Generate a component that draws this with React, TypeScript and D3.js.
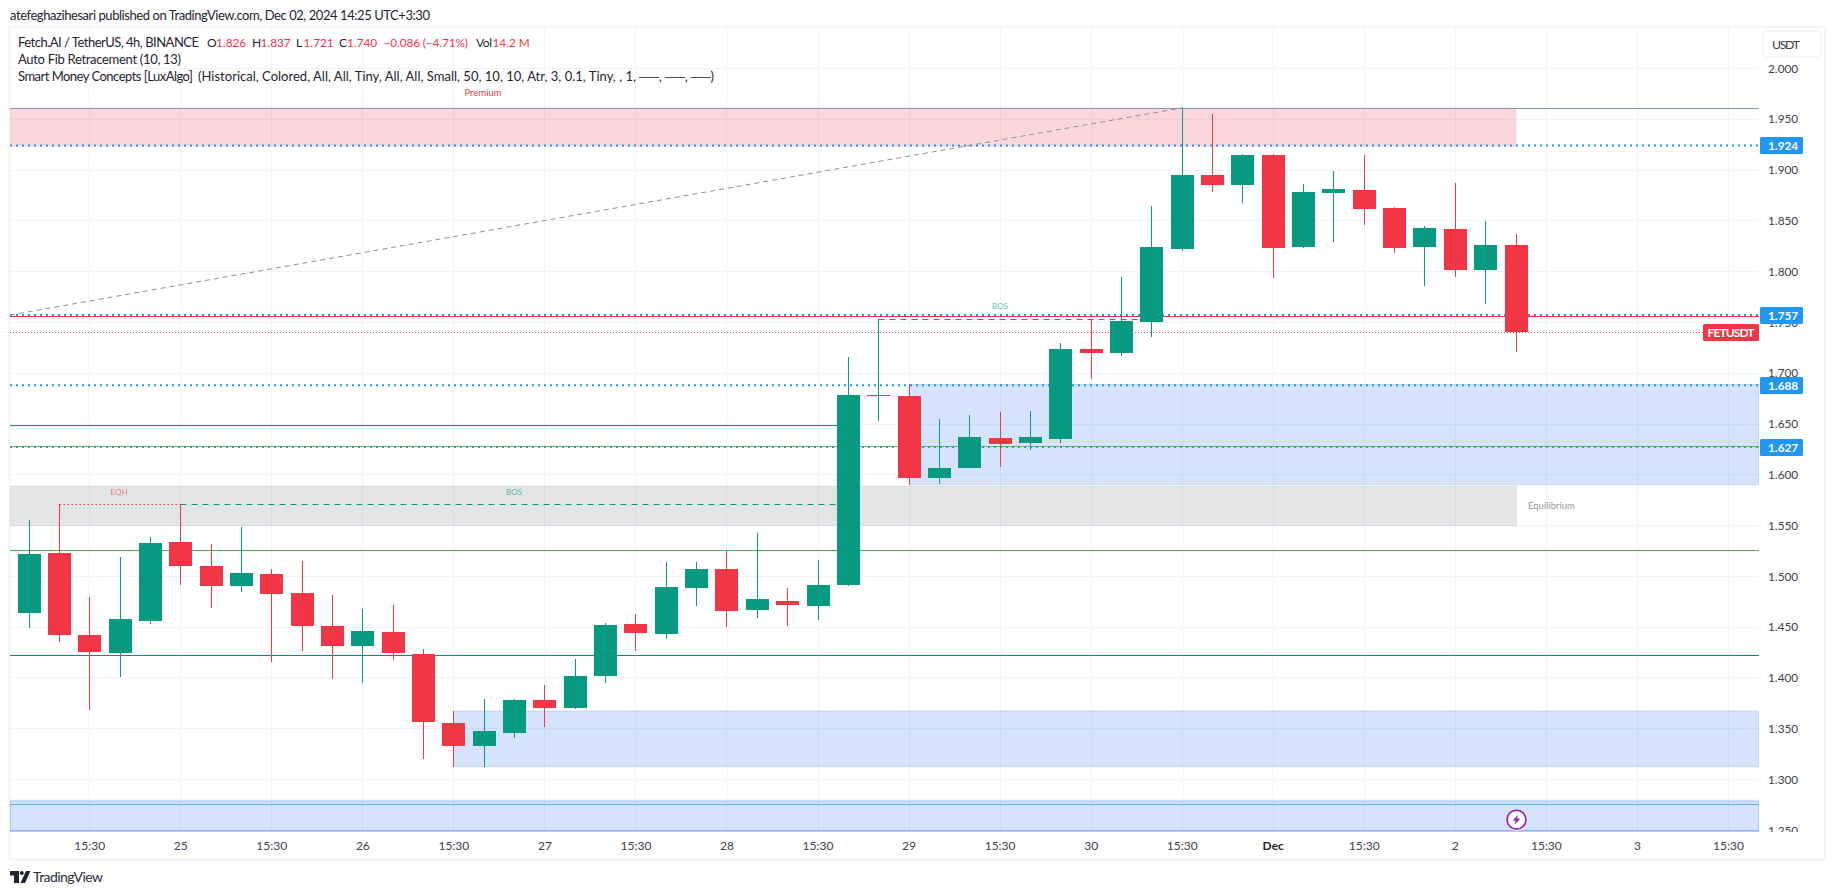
import React from "react";
import * as d3 from "d3";

const opens = [1.464,1.523,1.442,1.424,1.456,1.534,1.510,1.490,1.502,1.483,1.451,1.431,1.445,1.423,1.355,1.333,1.346,1.378,1.370,1.402,1.453,1.443,1.488,1.507,1.467,1.476,1.471,1.491,1.677,1.677,1.597,1.606,1.636,1.631,1.635,1.724,1.720,1.750,1.822,1.895,1.885,1.915,1.824,1.877,1.880,1.862,1.824,1.842,1.801,1.826];
const highs = [1.555,1.571,1.479,1.519,1.539,1.571,1.532,1.548,1.507,1.515,1.481,1.468,1.472,1.428,1.367,1.379,1.379,1.393,1.418,1.454,1.463,1.514,1.514,1.525,1.542,1.488,1.516,1.716,1.753,1.689,1.655,1.659,1.662,1.663,1.729,1.753,1.794,1.864,1.961,1.955,1.916,1.916,1.886,1.899,1.915,1.863,1.845,1.887,1.850,1.837];
const lows = [1.449,1.435,1.368,1.401,1.453,1.491,1.469,1.484,1.415,1.426,1.399,1.395,1.417,1.320,1.312,1.312,1.341,1.351,1.369,1.395,1.426,1.438,1.471,1.450,1.459,1.451,1.457,1.490,1.653,1.590,1.591,1.606,1.607,1.624,1.631,1.694,1.717,1.735,1.820,1.878,1.867,1.793,1.823,1.829,1.846,1.818,1.786,1.794,1.768,1.721];
const closes = [1.522,1.442,1.425,1.458,1.533,1.510,1.490,1.503,1.482,1.451,1.431,1.446,1.424,1.356,1.333,1.348,1.378,1.370,1.402,1.452,1.444,1.489,1.507,1.466,1.477,1.472,1.491,1.678,1.678,1.597,1.606,1.637,1.630,1.637,1.724,1.720,1.751,1.824,1.895,1.885,1.915,1.823,1.878,1.881,1.861,1.823,1.843,1.801,1.826,1.740];

const priceTicks = [2.0,1.95,1.9,1.85,1.8,1.75,1.7,1.65,1.6,1.55,1.5,1.45,1.4,1.35,1.3,1.25];
const timeTickIndex = [2,5,8,11,14,17,20,23,26,29,32,35,38,41,44,47,50,53,56];
const timeTickLabels = ["15:30","25","15:30","26","15:30","27","15:30","28","15:30","29","15:30","30","15:30","Dec","15:30","2","15:30","3","15:30"];
const priceBadges = [1.924,1.757,1.688,1.627];

const UP = "#089981";
const DOWN = "#f23645";
const BLUE = "#2196f3";
const TXT = "#1f2430";
const AXIS = "#3c404c";
const FONT = "Lato, Roboto, sans-serif";

const W = 1835, H = 895;
const L = 10, R = 1759, T = 28, B = 831.5;

const x = d3.scaleLinear().domain([0, 49]).range([29.02, 1516.02]);
const y = d3.scaleLinear().domain([1.3, 2]).range([779.3, 68.2]);
const px = (i: number) => Math.floor(x(i));
const hl = (p: number) => Math.round(y(p) * 2) / 2;
const crisp = (p: number) => Math.floor(y(p)) + 0.5;

const zones = [
  { x0: null, x1: 49, top: 1.961, bottom: 1.9227, fill: "rgba(242,54,69,0.2)", stroke: "none", sw: 1 },
  { x0: null, x1: 49, top: 1.5887, bottom: 1.5497, fill: "rgba(120,123,134,0.2)", stroke: "rgba(120,123,134,0.12)", sw: 1 },
  { x0: 29, x1: null, top: 1.6888, bottom: 1.59, fill: "rgba(34,108,244,0.19)", stroke: "rgba(41,110,245,0.18)", sw: 1 },
  { x0: 14, x1: null, top: 1.3672, bottom: 1.3124, fill: "rgba(34,108,244,0.19)", stroke: "rgba(41,110,245,0.18)", sw: 1 },
  { x0: null, x1: null, top: 1.2789, bottom: 1.2491, fill: "rgba(34,108,244,0.19)", stroke: "rgba(41,110,245,0.2)", sw: 2 },
];

const solidLevels = [
  { p: 1.9605, c: "#8296c6", end: null, w: 1 },
  { p: 1.6478, c: "#0e8a74", end: 27, w: 1 },
  { p: 1.5254, c: "#4caf50", end: null, w: 1 },
  { p: 1.4221, c: "#0e8a74", end: null, w: 1 },
  { p: 1.2754, c: "#5eb0f5", end: null, w: 1 },
  { p: 1.2491, c: "#7ea6ee", end: null, w: 2 },
];

function Candle({ i }: { i: number }) {
  const up = closes[i] >= opens[i];
  const c = up ? UP : DOWN;
  const xx = px(i);
  const top = Math.round(y(Math.max(opens[i], closes[i])));
  const bot = Math.round(y(Math.min(opens[i], closes[i])));
  const hy = Math.round(y(highs[i]));
  const ly = Math.round(y(lows[i]));
  return (
    <g fill={c} shapeRendering="crispEdges">
      <rect x={xx} y={hy} width={1} height={ly - hy} />
      <rect x={xx - 11} y={top} width={23} height={Math.max(bot - top, 1)} />
    </g>
  );
}

export default function App() {
  const gridX = timeTickIndex.map((i) => px(i) + 0.5);
  const xe = (i: number | null, fb: number) => (i === null ? fb : px(i) + 0.5);
  return (
    <svg
      width={W}
      height={H}
      viewBox={`0 0 ${W} ${H}`}
      style={{ position: "absolute", left: 0, top: 0, display: "block", background: "#fff", fontFamily: FONT }}
    >
      <defs>
        <clipPath id="plot"><rect x={L} y={T} width={R - L} height={B - T} /></clipPath>
        <clipPath id="axis"><rect x={R} y={T} width={66} height={B - T + 0.5} /></clipPath>
      </defs>

      <text x={10} y={19.5} fontSize={13} fill={TXT} textLength={420} lengthAdjust="spacing">atefeghazihesari published on TradingView.com, Dec 02, 2024 14:25 UTC+3:30</text>

      {/* frame */}
      <rect x={9.5} y={26.7} width={1815.5} height={832.8} fill="none" stroke="#f0f3fa" strokeWidth={2} />

      <g clipPath="url(#plot)">
        <g stroke="#f0f3fa" strokeWidth={1} shapeRendering="crispEdges">
          {gridX.map((gx, k) => <line key={k} x1={gx} x2={gx} y1={T} y2={B} />)}
          {priceTicks.map((p) => <line key={p} x1={L} x2={R} y1={hl(p)} y2={hl(p)} />)}
        </g>

        {zones.map((z, k) => {
          const x0 = xe(z.x0, L), x1 = xe(z.x1, R);
          return (
            <rect key={k} x={x0} y={y(z.top)} width={x1 - x0} height={y(z.bottom) - y(z.top)} fill={z.fill} stroke={z.stroke} strokeWidth={z.sw} />
          );
        })}

        {solidLevels.map((s, k) => (
          <line key={k} x1={L} x2={xe(s.end, R)} y1={crisp(s.p)} y2={crisp(s.p)} stroke={s.c} strokeWidth={s.w} />
        ))}

        {/* last price dotted */}
        <line x1={L} x2={1703} y1={crisp(1.74)} y2={crisp(1.74)} stroke={DOWN} strokeWidth={1} strokeDasharray="1 2" />

        {/* fib dotted levels */}
        {priceBadges.map((p) => (
          <line key={p} x1={L} x2={R} y1={y(p)} y2={y(p)} stroke={BLUE} strokeWidth={2} strokeDasharray="2 4" />
        ))}

        {/* solid levels that lie on top of the dots */}
        <line x1={L} x2={R} y1={316.5} y2={316.5} stroke={DOWN} strokeWidth={1} />
        <line x1={L} x2={R} y1={446.5} y2={446.5} stroke="#4caf50" strokeOpacity={0.85} strokeWidth={1} />

        {/* fib trend */}
        <line x1={L} x2={x(38)} y1={y(1.757)} y2={y(1.961)} stroke="#8a8e99" strokeWidth={1} strokeDasharray="5 4" />

        {/* SMC structure */}
        <line x1={px(1) + 0.5} x2={px(5) + 0.5} y1={crisp(1.571)} y2={crisp(1.571)} stroke={DOWN} strokeWidth={1} strokeDasharray="1.5 2.5" />
        <line x1={px(5) + 0.5} x2={px(27)} y1={crisp(1.571)} y2={crisp(1.571)} stroke={UP} strokeWidth={1} strokeDasharray="6 5" />
        <line x1={px(28) + 0.5} x2={px(37)} y1={crisp(1.7528)} y2={crisp(1.7528)} stroke={UP} strokeWidth={1} strokeDasharray="6 5" />

        {d3.range(opens.length).map((i) => <Candle key={i} i={i} />)}

        <text x={119} y={494.5} fontSize={8} fill={DOWN} fillOpacity={0.65} textAnchor="middle">EQH</text>
        <text x={514} y={494.5} fontSize={8} fill={UP} fillOpacity={0.7} textAnchor="middle">BOS</text>
        <text x={1000} y={309} fontSize={8} fill={UP} fillOpacity={0.7} textAnchor="middle">BOS</text>
        <text x={483} y={96} fontSize={9.5} fill={DOWN} textAnchor="middle">Premium</text>
        <text x={1528} y={509} fontSize={9.5} fill="#9598a1">Equilibrium</text>

        {/* lightning marker */}
        <g transform={`translate(${px(49) + 0.5},819.7)`}>
          <circle r={11} fill="#fff" />
          <circle r={9.5} fill="none" stroke="#9c27b0" strokeWidth={1.8} />
          <path d="M1.5,-5 L-4,1 L-0.8,1 L-2,5 L4,-1.2 L0.6,-1.2 Z" fill="#9c27b0" />
        </g>
      </g>

      {/* legend */}
      <g fontSize={13} fill={TXT}>
        <text x={18} y={46.5} textLength={181} lengthAdjust="spacing">Fetch.AI / TetherUS, 4h, BINANCE</text>
        <text x={207} y={46.5} fontSize={12}>O</text><text x={216} y={46.5} fontSize={11.8} fill={DOWN}>1.826</text>
        <text x={252} y={46.5} fontSize={12}>H</text><text x={260.5} y={46.5} fontSize={11.8} fill={DOWN}>1.837</text>
        <text x={296} y={46.5} fontSize={12}>L</text><text x={303.5} y={46.5} fontSize={11.8} fill={DOWN}>1.721</text>
        <text x={339} y={46.5} fontSize={12}>C</text><text x={347} y={46.5} fontSize={11.8} fill={DOWN}>1.740</text>
        <text x={383.5} y={46.5} fontSize={11.8} fill={DOWN} textLength={84.5}>−0.086 (−4.71%)</text>
        <text x={476} y={46.5} fontSize={12} textLength={16}>Vol</text><text x={492.5} y={46.5} fontSize={11.8} fill={DOWN}>14.2 M</text>
        <text x={18} y={63.5} textLength={163} lengthAdjust="spacing">Auto Fib Retracement (10, 13)</text>
        <text x={18} y={80.5} textLength={175} lengthAdjust="spacing">Smart Money Concepts [LuxAlgo]</text>
        <text x={198} y={80.5} textLength={516} lengthAdjust="spacing">(Historical, Colored, All, All, Tiny, All, All, Small, 50, 10, 10, Atr, 3, 0.1, Tiny, , 1, ──, ──, ──)</text>
      </g>

      {/* price axis */}
      <g clipPath="url(#axis)">
        {priceTicks.map((p) => (
          <text key={p} x={1768} y={y(p) + 4.5} fontSize={11.8} fill={AXIS}>{p.toFixed(3)}</text>
        ))}
      </g>
      <rect x={1763} y={31} width={58} height={26} rx={5} fill="#fff" stroke="#f0f3fa" strokeWidth={1.5} />
      <text x={1772} y={48.5} fontSize={12.3} fill={AXIS} textLength={28}>USDT</text>

      {priceBadges.map((p) => {
        const c = y(p);
        return (
          <g key={p}>
            <rect x={1760} y={Math.round(c - 8)} width={43} height={17} rx={1.5} fill={BLUE} />
            <text x={1768} y={Math.round(c - 8) + 13} fontSize={11.8} fontWeight={700} fill="#fff">{p.toFixed(3)}</text>
          </g>
        );
      })}
      <rect x={1703} y={324} width={56} height={17} rx={1.5} fill={DOWN} />
      <text x={1707.5} y={337} fontSize={12} fontWeight={700} fill="#fff" textLength={47}>FETUSDT</text>

      {/* time axis */}
      {timeTickIndex.map((i, k) => (
        <text key={k} x={x(i)} y={850} fontSize={12} fill={timeTickLabels[k] === "Dec" ? TXT : AXIS} fontWeight={timeTickLabels[k] === "Dec" ? 700 : 400} textAnchor="middle">{timeTickLabels[k]}</text>
      ))}

      {/* TradingView footer */}
      <g fill={TXT}>
        <path d="M10,871 H19 V883 H14 V875.5 H10 Z" />
        <circle cx={21.8} cy={873} r={2} />
        <path d="M26,871 H30.5 L25,883 H20.5 Z" />
      </g>
      <text x={33} y={882} fontSize={14} fill="#2a2e39" textLength={70}>TradingView</text>
    </svg>
  );
}
